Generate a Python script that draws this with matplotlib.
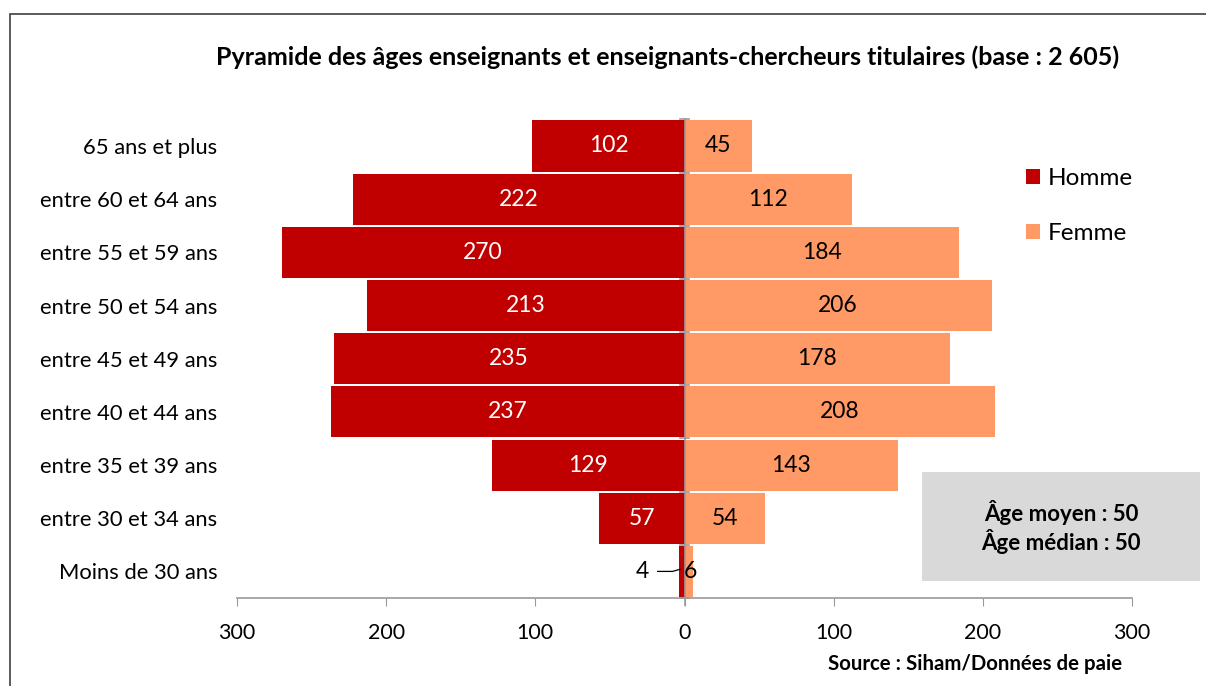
import matplotlib
matplotlib.use("Agg")
import matplotlib.pyplot as plt
from matplotlib.patches import Rectangle
import numpy as np

plt.rcParams['font.family'] = ['Lato', 'DejaVu Sans']

categories = ["Moins de 30 ans", "entre 30 et 34 ans", "entre 35 et 39 ans",
              "entre 40 et 44 ans", "entre 45 et 49 ans", "entre 50 et 54 ans",
              "entre 55 et 59 ans", "entre 60 et 64 ans", "65 ans et plus"]
homme = [4, 57, 129, 237, 235, 213, 270, 222, 102]
femme = [6, 54, 143, 208, 178, 206, 184, 112, 45]
xticks = [-300, -200, -100, 0, 100, 200, 300]
xticklabels = ["300", "200", "100", "0", "100", "200", "300"]

c_h = "#C00000"
c_f = "#FF9966"

fig = plt.figure(figsize=(12.06, 6.86), dpi=100)
ax = fig.add_axes([237/1206, 1-598/686, (1132-237)/1206, (598-119.4)/686])

y = np.arange(len(categories))
ax.barh(y, [-v for v in homme], height=0.96, color=c_h, label="Homme", zorder=2)
ax.barh(y, femme, height=0.96, color=c_f, label="Femme", zorder=2)

ax.set_xlim(-300, 300)
ax.set_ylim(-0.5, len(categories) - 0.5)
ax.set_xticks(xticks)
ax.set_xticklabels(xticklabels, fontsize=15.4)
ax.set_yticks(y)
ax.set_yticklabels(categories, fontsize=15.8)
ax.tick_params(axis='y', length=0, pad=14)
ax.tick_params(axis='x', length=6, color="#999999", pad=12)

for s in ['top', 'right', 'left']:
    ax.spines[s].set_visible(False)
ax.spines['bottom'].set_color("#999999")
ax.spines['bottom'].set_linewidth(1.2)

# central vertical axis
ax.axvline(0, color="#999999", lw=1.2, zorder=3, ymin=-0.015, clip_on=False)
for b in np.arange(-0.5, len(categories), 1.0):
    ax.plot([-3, 3], [b, b], color="#999999", lw=1.2, zorder=3, clip_on=False)

# value labels
for i, (h, f) in enumerate(zip(homme, femme)):
    if h < 20:
        ax.text(-24, i, str(h), ha='right', va='center', fontsize=16.5, color='black')
        ax.plot([-18, -8, -3], [i, i, i + 0.04], color='black', lw=0.9)
    else:
        ax.text(-h / 2, i, str(h), ha='center', va='center', fontsize=16.5, color='white')
    if f < 20:
        ax.text(f / 2 + 1, i, str(f), ha='center', va='center', fontsize=16.5, color='black')
    else:
        ax.text(f / 2, i, str(f), ha='center', va='center', fontsize=16.5, color='black')

# legend
leg = ax.legend(loc='upper left', bbox_to_anchor=(1014/1206, 1-156/686),
                bbox_transform=fig.transFigure, frameon=False, fontsize=17.5,
                handlelength=0.55, handleheight=0.55, handletextpad=0.35,
                labelspacing=1.4, borderpad=0)

# title
fig.text(668/1206, 1-57/686,
         "Pyramide des âges enseignants et enseignants-chercheurs titulaires (base : 2 605)",
         ha='center', va='center', fontsize=18, fontweight='bold')

# info box
fig.patches.append(Rectangle((922/1206, 1-581/686), (1200-922)/1206, (581-472)/686,
                             transform=fig.transFigure, facecolor="#D9D9D9",
                             edgecolor='none', zorder=1))
fig.text(1061/1206, 1-527/686, "Âge moyen : 50\nÂge médian : 50",
         ha='center', va='center', fontsize=16, fontweight='bold', linespacing=1.2)

# source
fig.text(1122/1206, 1-664/686, "Source : Siham/Données de paie",
         ha='right', va='center', fontsize=14.7, fontweight='bold')

# outer frame
fig.patches.append(Rectangle((10/1206, -0.05), 1.2, 1-14/686 + 0.05,
                             transform=fig.transFigure, facecolor='none',
                             edgecolor='#404040', lw=1.2, zorder=0))

fig.savefig("out.png", dpi=100)
